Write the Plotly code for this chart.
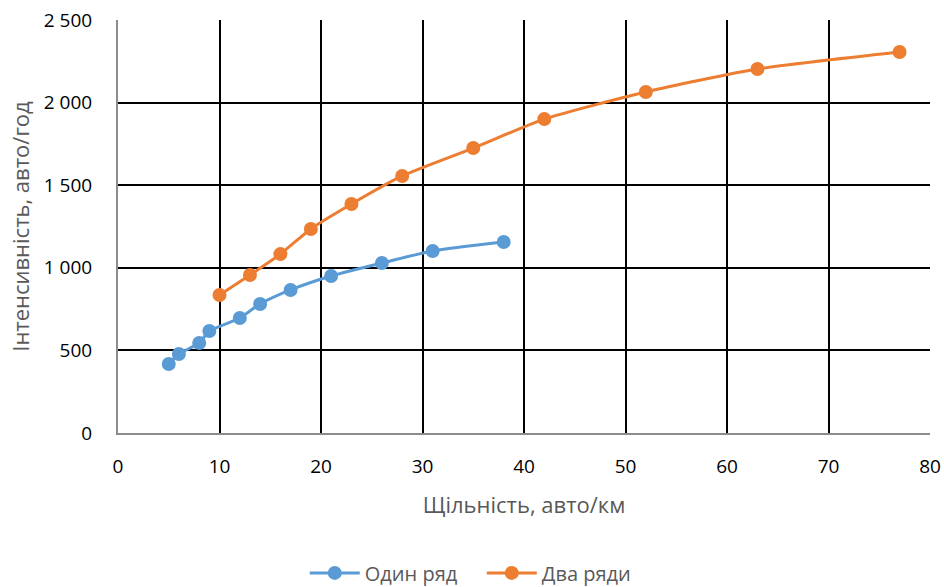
import plotly.graph_objects as go

# Один ряд
x_one = [5, 6, 8, 9, 12, 14, 17, 21, 26, 31, 38]
y_one = [418, 478, 545, 617, 696, 781, 866, 950, 1029, 1102, 1156]

# Два ряди
x_two = [10, 13, 16, 19, 23, 28, 35, 42, 52, 63, 77]
y_two = [835, 956, 1083, 1235, 1386, 1556, 1725, 1900, 2064, 2203, 2306]

x_ticks = [0, 10, 20, 30, 40, 50, 60, 70, 80]
y_ticks = [0, 500, 1000, 1500, 2000, 2500]
y_tick_text = ["0", "500", "1 000", "1 500", "2 000", "2 500"]

blue = "#5B9BD5"
orange = "#ED7D31"
font_family = "Open Sans, Noto Sans, sans-serif"

fig = go.Figure()
fig.add_trace(go.Scatter(
    x=x_one, y=y_one, name="Один ряд", mode="lines+markers",
    line=dict(color=blue, width=3, shape="spline", smoothing=0.6),
    marker=dict(color=blue, size=14),
))
fig.add_trace(go.Scatter(
    x=x_two, y=y_two, name="Два ряди", mode="lines+markers",
    line=dict(color=orange, width=3, shape="spline", smoothing=0.6),
    marker=dict(color=orange, size=14),
))

fig.update_layout(
    width=944, height=587,
    margin=dict(l=118, r=14, t=20, b=154, autoexpand=False),
    paper_bgcolor="white", plot_bgcolor="white",
    font=dict(family=font_family, color="black", size=19),
    showlegend=True,
    legend=dict(
        orientation="h", x=0.448, xanchor="center",
        yref="container", y=0.024, yanchor="middle",
        font=dict(size=20, color="#595959"), itemwidth=50,
        entrywidth=112,
    ),
    xaxis=dict(
        range=[0, 80], tickvals=x_ticks, showgrid=True,
        gridcolor="black", gridwidth=1.5,
        showline=True, linecolor="#8C8C8C", linewidth=2,
        zeroline=False, ticks="outside", ticklen=15, tickcolor="rgba(0,0,0,0)",
        tickfont=dict(size=19, color="black"),
        title=dict(text="Щільність, авто/км", font=dict(size=22, color="#595959"), standoff=20),
    ),
    yaxis=dict(
        range=[0, 2500], tickvals=y_ticks, ticktext=y_tick_text, showgrid=True,
        gridcolor="black", gridwidth=1.5,
        showline=True, linecolor="#8C8C8C", linewidth=2,
        zeroline=False, ticks="outside", ticklen=20, tickcolor="rgba(0,0,0,0)",
        tickfont=dict(size=19, color="black"),
        title=dict(text="Інтенсивність, авто/год", font=dict(size=22, color="#595959"), standoff=8),
    ),
)

fig.write_html("out.html")
